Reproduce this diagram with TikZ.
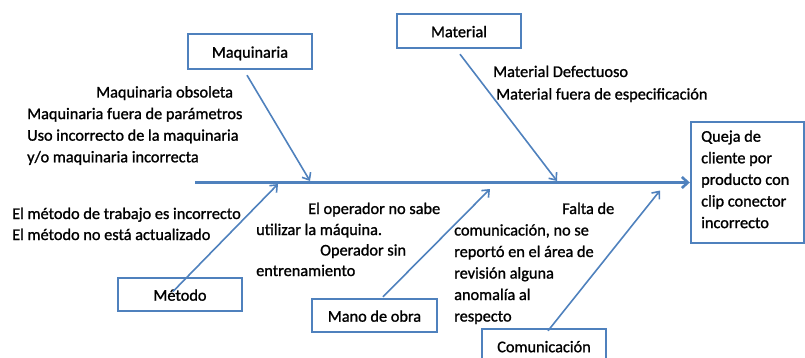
\documentclass[tikz,border=0pt]{standalone}
\usepackage{fontspec}
\setmainfont{Carlito}[FakeBold=1.2]
\usetikzlibrary{arrows.meta}
\definecolor{obl}{HTML}{4F81BD}
\begin{document}
\begin{tikzpicture}[x=1pt,y=-1pt,
  box/.style={draw=obl, line width=2.4pt, fill=white, inner sep=0pt, text height=15pt, text depth=2.6pt, font=\fontsize{16.3}{21.6}\selectfont},
  lbl/.style={anchor=base west, inner sep=0pt, font=\fontsize{16.3}{21.6}\selectfont},
  branch/.style={draw=obl, line width=1.6pt, -{Straight Barb[length=6pt,width=10pt]}},
  spine/.style={draw=obl, line width=2.6pt, -{Straight Barb[length=6pt,width=11pt]}}]
\useasboundingbox (0,0) rectangle (805,358);

% boxes
\node[box, minimum width=124pt, minimum height=35pt] (maq) at (250,51.5) {Maquinaria};
\node[box, minimum width=124pt, minimum height=34pt] (mat) at (459,31) {Material};
\node[box, minimum width=124pt, minimum height=33pt] (met) at (180,294.5) {Método};
\node[box, minimum width=125pt, minimum height=33pt] (mob) at (374.5,315.5) {Mano de obra};
\node[box, minimum width=124pt, minimum height=34pt] (com) at (544,346) {Comunicación};
\node[box, minimum width=113pt, minimum height=121pt] (eff) at (747.5,182.5) {};

% effect text
\node[lbl] (e1) at (701,141.7) {Queja de};
\node[lbl] (e2) at (701,163.3) {cliente por};
\node[lbl] (e3) at (701,184.9) {producto con};
\node[lbl] (e4) at (701,206.5) {clip conector};
\node[lbl] (e5) at (701,228.1) {incorrecto};

% spine
\coordinate (sp0) at (195,182.5);
\draw[spine] (sp0) -- (eff.west);

% branch tips
\coordinate (s1) at (310,181);
\coordinate (s2) at (557,181);
\coordinate (s3) at (278,184);
\coordinate (s4) at (490,189);
\coordinate (s5) at (660,190.5);

\draw[branch] ([xshift=-3pt,yshift=-5pt]maq.south) -- (s1);
\draw[branch] ([xshift=1pt,yshift=-5pt]mat.south) -- (s2);
\draw[branch] ([xshift=-7pt,yshift=3pt]met.center) -- (s3);
\draw[branch] ([xshift=8.5pt,yshift=1pt]mob.north) -- (s4);
\draw[branch] ([xshift=4pt,yshift=-3pt]com.north) -- (s5);

% Maquinaria causes
\node[lbl] (q1) at (96,97.5) {Maquinaria obsoleta};
\node[lbl] (q2) at (27,119.1) {Maquinaria fuera de parámetros};
\node[lbl] (q3) at (27,140.7) {Uso incorrecto de la maquinaria};
\node[lbl] (q4) at (27,162.3) {y/o maquinaria incorrecta};

% Material causes
\node[lbl] (m1) at (493,77) {Material Defectuoso};
\node[lbl] (m2) at (496,99.5) {Material fuera de especificación};

% Metodo causes
\node[lbl] (t1) at (12,219) {El método de trabajo es incorrecto};
\node[lbl] (t2) at (12,240) {El método no está actualizado};

% Mano de obra causes
\node[lbl] (o1) at (308,214) {El operador no sabe};
\node[lbl] (o2) at (256,235) {utilizar la máquina.};
\node[lbl] (o3) at (320,255.5) {Operador sin};
\node[lbl] (o4) at (256,276) {entrenamiento};

% Comunicacion causes
\node[lbl] (c1) at (562,214) {Falta de};
\node[lbl] (c2) at (454,235.5) {comunicación, no se};
\node[lbl] (c3) at (454,257) {reportó en el área de};
\node[lbl] (c4) at (454,278.5) {revisión alguna};
\node[lbl] (c5) at (454,300) {anomalía al};
\node[lbl] (c6) at (454,321.5) {respecto};
\end{tikzpicture}
\end{document}
